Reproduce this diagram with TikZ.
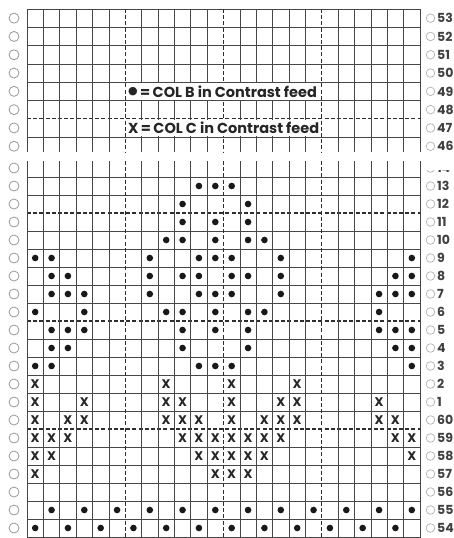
\documentclass[tikz,border=0pt]{standalone}
\usepackage{fontspec}
\setsansfont{Poppins}
\newfontfamily\symfont{DejaVu Sans}

\begin{document}
\begin{tikzpicture}[
    x=1pt, y=-1pt,
    gridline/.style={draw=black!72, line width=0.75pt},
    gridcut/.style={draw=black!82, line width=1.15pt, dash pattern=on 4pt off 2.2pt},
    hole/.style={draw=black!40, line width=0.8pt},
    rimhole/.style={draw=black!30, line width=0.7pt},
    punch/.style={fill=black!90},
    cross/.style={font=\sffamily\bfseries\fontsize{12.5}{12.5}\selectfont,
                  text=black!85, inner sep=0pt},
    rownum/.style={anchor=west, inner sep=0pt, text=black!75,
                   font=\sffamily\bfseries\fontsize{12.5}{12.5}\selectfont},
    keytext/.style={anchor=west, inner sep=0pt, text=black!85,
                    font=\sffamily\bfseries\fontsize{14.5}{14.5}\selectfont}
]
\useasboundingbox (0,0) rectangle (454,538);
\fill[white] (0,0) rectangle (454,538);

% upper piece of the card (rows 53 to 46)
\foreach \j in {0,...,7}{
  \ifnum\j=6
    \draw[gridcut] (27,{9+18.3*\j}) -- (420,{9+18.3*\j});
  \else
    \draw[gridline] (27,{9+18.3*\j}) -- (420,{9+18.3*\j});
  \fi
}
\foreach \c in {0,...,24}{
  \ifnum\c=6 \def\gs{gridcut}\else\ifnum\c=12 \def\gs{gridcut}\else
  \ifnum\c=18 \def\gs{gridcut}\else\def\gs{gridline}\fi\fi\fi
  \draw[\gs] ({27+16.375*\c},9) -- ({27+16.375*\c},152);
}

% key
\fill[white] (126.2,83) rectangle (321,99.8);
\fill[white] (126.2,119.6) rectangle (321,136.3);
\node[keytext] (keyB) at (128,91.4) {\raisebox{2.8pt}{\symfont\fontsize{11}{11}\selectfont ●}\,=\,COL B in Contrast feed};
\node[keytext] (keyC) at (128,128) {X\,=\,COL C in Contrast feed};

\foreach \n [count=\k from 0] in {53,52,51,50,49,48,47,46}{
  \draw[hole] (14,{9+18.3*(\k+0.5)}) circle (5);
  \draw[rimhole] (430.5,{9+18.3*(\k+0.5)}) circle (4.3);
  \node[rownum] (num\n) at (437,{9+18.3*(\k+0.5)}) {\n};
}

% lower piece of the card (rows 14 to 54)
\begin{scope}
  \clip (0,161) rectangle (454,538);
  \foreach \j in {0,...,20}{
    \ifnum\j=2 \def\gs{gridcut}\else\ifnum\j=8 \def\gs{gridcut}\else
    \ifnum\j=14 \def\gs{gridcut}\else\def\gs{gridline}\fi\fi\fi
    \draw[\gs] (27,{177+18*\j}) -- (420,{177+18*\j});
  }
  \foreach \c in {0,...,24}{
    \ifnum\c=6 \def\gs{gridcut}\else\ifnum\c=12 \def\gs{gridcut}\else
    \ifnum\c=18 \def\gs{gridcut}\else\def\gs{gridline}\fi\fi\fi
    \draw[\gs] ({27+16.375*\c},161) -- ({27+16.375*\c},540);
  }
  \draw[hole] (14,168) circle (5);
\end{scope}
\begin{scope}
  \clip (420,170.5) rectangle (454,177);
  \draw[rimhole] (430.5,168) circle (4.3);
  \node[rownum] (num14) at (437,168) {14};
\end{scope}

\foreach \n [count=\k from 0] in {13,12,11,10,9,8,7,6,5,4,3,2,1,60,59,58,57,56,55,54}{
  \draw[hole] (14,{177+18*(\k+0.5)}) circle (5);
  \draw[rimhole] (430.5,{177+18*(\k+0.5)}) circle (4.3);
  \node[rownum] (num\n) at (437,{177+18*(\k+0.5)}) {\n};
}

% COL B
\foreach \k/\cols in {0/{11,12,13}, 1/{10,14}, 2/{10,12,14}, 3/{9,10,12,14,15},
    4/{1,2,8,11,12,13,16,24}, 5/{2,3,8,10,11,13,14,16,23,24},
    6/{2,3,4,8,11,12,13,16,22,23,24}, 7/{1,4,9,10,12,14,15,22},
    8/{2,3,4,10,12,14,22,23,24}, 9/{2,3,10,14,23,24}, 10/{1,2,11,12,13,24},
    18/{2,4,6,8,10,12,14,16,18,20,22,24}, 19/{1,3,5,7,9,11,13,15,17,19,21,23}}{
  \foreach \c in \cols
    \fill[punch] ({27+16.375*(\c-0.5)},{177+18*(\k+0.5)}) circle (3.3);
}

% COL C
\foreach \k/\cols in {11/{1,9,13,17}, 12/{1,4,9,10,13,16,17,22},
    13/{1,3,4,9,10,11,13,15,16,17,22,23}, 14/{1,2,3,10,11,12,13,14,15,16,23,24},
    15/{1,2,11,12,13,14,15,24}, 16/{1,12,13,14}}{
  \foreach \c in \cols
    \node[cross] (x\k-\c) at ({27+16.375*(\c-0.5)},{177+18*(\k+0.5)}) {X};
}
\end{tikzpicture}
\end{document}
